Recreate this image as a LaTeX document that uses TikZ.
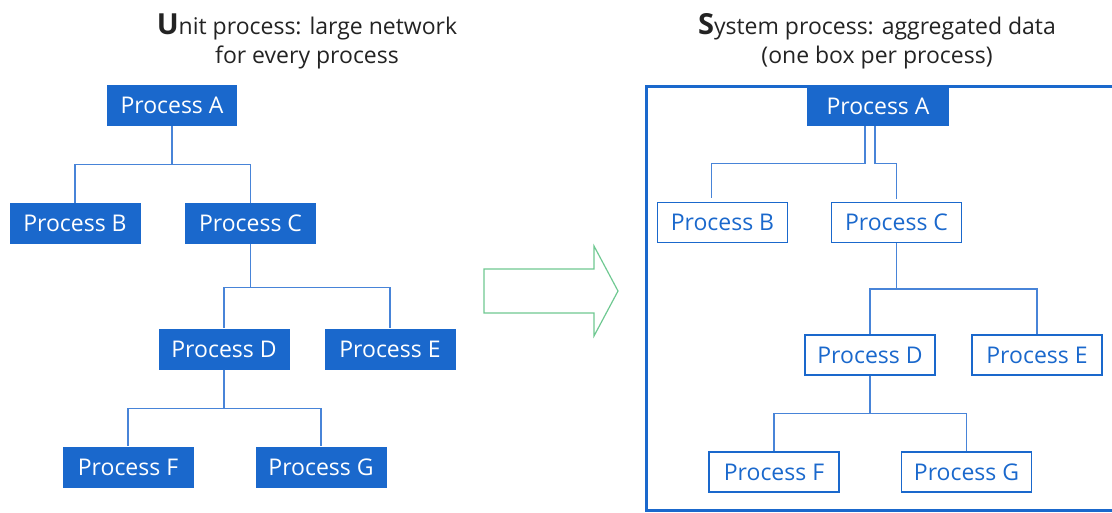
\documentclass[tikz,border=0pt]{standalone}
\usepackage{fontspec}
\setmainfont{Open Sans}
\definecolor{procblue}{RGB}{26,104,204}
\definecolor{linkblue}{RGB}{72,132,216}
\definecolor{arrowgreen}{RGB}{110,200,145}
\definecolor{titlegray}{RGB}{35,35,35}
\begin{document}
\begin{tikzpicture}[x=1pt,y=-1pt]

\tikzstyle{block} = [rectangle, fill=procblue, text=white, text centered, minimum width=131pt, minimum height=41pt, inner sep=0pt]
\tikzstyle{openblock} = [rectangle, draw=procblue, line width=1.3pt, text=procblue, text centered, minimum width=130pt, minimum height=40pt, inner sep=0pt]
\tikzstyle{link} = [draw=linkblue, line width=1.4pt]

\def \fsize{\fontsize{23}{29}\selectfont}
\def \bigfirst#1{\textbf{\fontsize{29}{29}\selectfont #1}}

\useasboundingbox (0,0) rectangle (1112,512);

%Titles
\node[align=center, inner sep=0pt, text=titlegray, font=\fsize](unittitle) at (307,41) {\bigfirst{U}nit process: large network\\for every process};
\node[align=center, inner sep=0pt, text=titlegray, font=\fsize](systitle) at (877,41) {\bigfirst{S}ystem process: aggregated data\\(one box per process)};

%Unit process tree
\node[block, minimum width=130pt](lA) at (172,105.5){\fsize Process A};
\node[block](lB) at (75,223.5){\fsize Process B};
\node[block](lC) at (250.5,223.5){\fsize Process C};
\node[block](lD) at (224,349){\fsize Process D};
\node[block](lE) at (390,349){\fsize Process E};
\node[block](lF) at (128,467){\fsize Process F};
\node[block](lG) at (321,467){\fsize Process G};

\draw[link] (lA.south) -- ++(0,38) -| (lB.north);
\draw[link] (lA.south) -- ++(0,38) -| (lC.north);
\draw[link] (lC.south) -- ++(0,43) -| (lD.north);
\draw[link] (lC.south) -- ++(0,43) -| (lE.north);
\draw[link] (lD.south) -- ++(0,39) -| (lF.north);
\draw[link] (lD.south) -- ++(0,39) -| (lG.north);

%Big arrow
\draw[arrowgreen, line width=1.2pt] (484,269) -- (594,269) -- (594,246) -- (618,291) -- (594,336) -- (594,313) -- (484,313) -- cycle;

%System process frame
\draw[procblue, line width=3pt] (646,86) rectangle (1125,510);

%System process tree
\node[block, minimum width=142pt, minimum height=40pt](rA) at (878,106){\fsize Process A};
\node[openblock](rB) at (722.5,222.5){\fsize Process B};
\node[openblock](rC) at (896.5,222.5){\fsize Process C};
\node[openblock](rD) at (870,355){\fsize Process D};
\node[openblock](rE) at (1037,355){\fsize Process E};
\node[openblock](rF) at (774,472){\fsize Process F};
\node[openblock](rG) at (966.5,472){\fsize Process G};

\draw[link, shorten >=4pt] ([xshift=-13pt]rA.south) -- ++(0,37) -| ([xshift=-11pt]rB.north);
\draw[link, shorten >=3pt] ([xshift=-3pt]rA.south) -- ++(0,37) -| (rC.north);
\draw[link] (rC.south) -- ++(0,46) -| (rD.north);
\draw[link] (rC.south) -- ++(0,46) -| (rE.north);
\draw[link] (rD.south) -- ++(0,38) -| (rF.north);
\draw[link] (rD.south) -- ++(0,38) -| (rG.north);

\end{tikzpicture}
\end{document}
